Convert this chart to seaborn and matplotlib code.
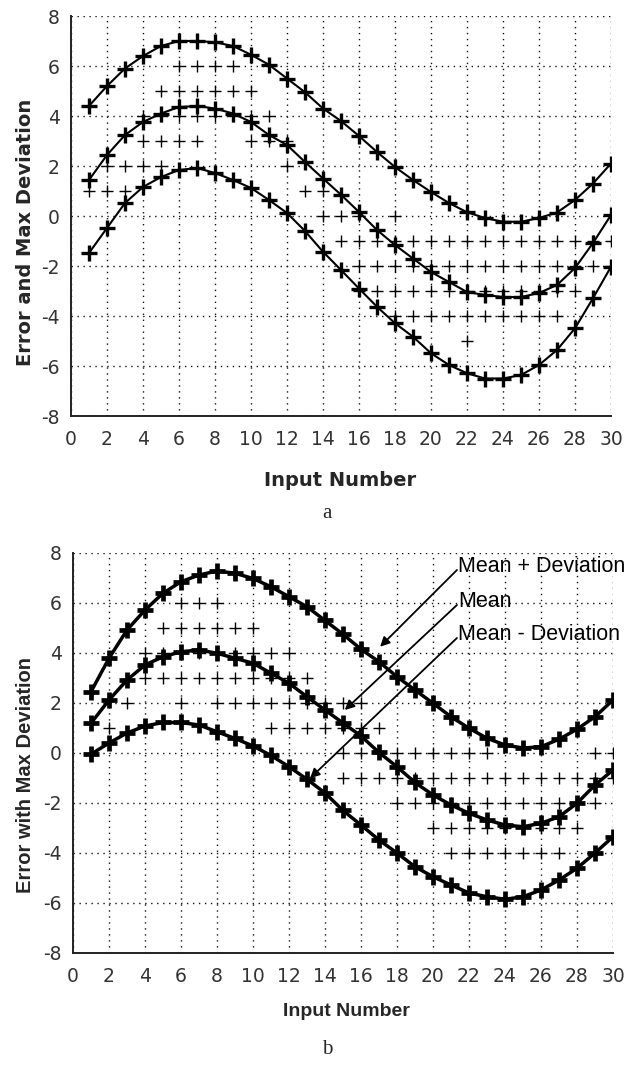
import numpy as np
import pandas as pd
import matplotlib
matplotlib.use("Agg")
import matplotlib.pyplot as plt
from matplotlib import font_manager
import seaborn as sns

# ---- data ----
inputs = list(range(1, 31))

# panel a: mean + deviation, mean, mean - deviation
a_upper = [4.4, 5.2, 5.9, 6.4, 6.8, 7.0, 7.0, 6.95, 6.8, 6.45,
           6.05, 5.5, 4.95, 4.3, 3.8, 3.2, 2.56, 1.96, 1.44, 0.96,
           0.52, 0.15, -0.08, -0.23, -0.23, -0.08, 0.14, 0.64, 1.3, 2.1]
a_mean = [1.44, 2.44, 3.24, 3.76, 4.1, 4.36, 4.4, 4.3, 4.1, 3.76,
          3.24, 2.84, 2.16, 1.5, 0.85, 0.16, -0.56, -1.16, -1.7, -2.24,
          -2.64, -3.04, -3.16, -3.24, -3.24, -3.08, -2.76, -2.08, -1.08, 0.04]
a_lower = [-1.48, -0.48, 0.52, 1.16, 1.56, 1.84, 1.92, 1.72, 1.44, 1.12,
           0.64, 0.12, -0.6, -1.43, -2.16, -2.9, -3.63, -4.29, -4.83, -5.49,
           -5.96, -6.29, -6.5, -6.5, -6.36, -5.96, -5.36, -4.49, -3.29, -2.03]

# panel a: individual errors (integer levels, list of inputs per level)
a_err_levels = [6, 5, 4, 3, 2, 1, 0, -1, -2, -3, -4, -5]
a_err_inputs = [
    [6, 7, 8, 9],
    [5, 6, 7, 8, 9, 10],
    [4, 5, 6, 7, 8, 9, 10, 11],
    [4, 5, 6, 7, 10, 11, 12],
    [2, 3, 4, 5, 12],
    [1, 2, 3, 13, 14],
    [14, 15, 16, 18],
    list(range(15, 31)),
    list(range(16, 31)),
    list(range(16, 29)),
    list(range(18, 28)),
    [22],
]

# panel b
b_upper = [2.45, 3.79, 4.92, 5.72, 6.39, 6.85, 7.12, 7.28, 7.19, 6.98,
           6.65, 6.25, 5.85, 5.3, 4.75, 4.15, 3.65, 3.05, 2.52, 1.99,
           1.45, 0.99, 0.59, 0.32, 0.2, 0.25, 0.55, 0.95, 1.45, 2.12]
b_mean = [1.19, 2.12, 2.92, 3.52, 3.85, 4.05, 4.12, 3.99, 3.79, 3.59,
          3.19, 2.79, 2.25, 1.72, 1.2, 0.68, 0.02, -0.55, -1.18, -1.68,
          -2.08, -2.41, -2.68, -2.88, -2.95, -2.81, -2.55, -2.01, -1.28, -0.68]
b_lower = [-0.05, 0.4, 0.8, 1.08, 1.22, 1.22, 1.12, 0.85, 0.58, 0.28,
           -0.1, -0.55, -1.05, -1.6, -2.3, -2.88, -3.48, -4.0, -4.55, -4.95,
           -5.28, -5.6, -5.75, -5.85, -5.75, -5.48, -5.08, -4.61, -4.0, -3.35]

b_err_levels = [6, 5, 4, 3, 2, 1, 0, -1, -2, -3, -4]
b_err_inputs = [
    [6, 7, 8],
    [5, 6, 7, 8, 9, 10],
    [4, 5, 6, 7, 8, 9, 10, 11, 12],
    [4, 5, 6, 7, 8, 9, 10, 11, 12, 13],
    [3, 6, 8, 9, 10, 11, 12, 13, 14, 15, 16],
    [2, 11, 12, 13, 14, 15, 16, 17],
    [15, 16, 17, 18, 19, 20, 21, 22, 23, 29, 30],
    list(range(15, 31)),
    list(range(18, 30)),
    list(range(20, 29)),
    list(range(21, 28)),
]

b_notes = ["Mean + Deviation", "Mean", "Mean - Deviation"]
b_note_y = [7.44, 6.04, 4.72]
b_arrow_from = [(21.33, 7.32), (21.33, 5.92), (21.33, 4.6)]
b_arrow_to = [(17.06, 4.25), (15.1, 1.72), (13.17, -1.01)]


def err_frame(levels, inputs_per_level):
    xs, ys = [], []
    for lev, ins in zip(levels, inputs_per_level):
        xs += ins
        ys += [lev] * len(ins)
    return pd.DataFrame({"x": xs, "y": ys})


sns.set_style("white")
plt.rcParams["axes.unicode_minus"] = False
names = {f.name for f in font_manager.fontManager.ttflist}
narrow = "Liberation Sans Narrow" in names
arial = "Liberation Sans Narrow" if narrow else "Liberation Sans"

W, H = 629, 1071
fig = plt.figure(figsize=(W / 100, H / 100), dpi=100)
fig.patch.set_facecolor("white")


def px_axes(l, t, r, b):
    return fig.add_axes([l / W, 1 - b / H, (r - l) / W, (b - t) / H])


def style_axes(ax):
    ax.set_xlim(0, 30)
    ax.set_ylim(-8, 8)
    ax.set_xticks(np.arange(0, 31, 2))
    ax.set_yticks(np.arange(-8, 9, 2))
    ax.grid(True, color="#111111", linestyle=(0, (1, 3.3)), linewidth=1.0)
    for s in ["top", "right"]:
        ax.spines[s].set_visible(False)
    for s in ["left", "bottom"]:
        ax.spines[s].set_color("#222222")
        ax.spines[s].set_linewidth(1.4)
    ax.tick_params(direction="in", length=4, width=1, colors="#222222",
                   labelsize=13.5)
    ax.tick_params(axis="x", pad=10)
    ax.tick_params(axis="y", pad=8)
    for lab in ax.get_xticklabels() + ax.get_yticklabels():
        lab.set_color("#333333")
    ax.set_xlabel("")
    ax.set_ylabel("")


# ---- panel a ----
ax1 = px_axes(71, 16, 611, 416)
sns.scatterplot(data=err_frame(a_err_levels, a_err_inputs), x="x", y="y", ax=ax1,
                marker="+", s=70, color="black", edgecolor="black", linewidth=1.0,
                zorder=3, legend=False)
for ys in [a_upper, a_mean, a_lower]:
    sns.lineplot(x=inputs, y=ys, ax=ax1, color="black", linewidth=1.5,
                 marker="+", markersize=11, markeredgewidth=2.4,
                 markeredgecolor="black", zorder=4)
style_axes(ax1)

# ---- panel b ----
ax2 = px_axes(73, 553, 613, 953)
sns.scatterplot(data=err_frame(b_err_levels, b_err_inputs), x="x", y="y", ax=ax2,
                marker="+", s=70, color="black", edgecolor="black", linewidth=1.0,
                zorder=3, legend=False)
for ys in [b_upper, b_mean, b_lower]:
    sns.lineplot(x=inputs, y=ys, ax=ax2, color="black", linewidth=2.5,
                 marker="+", markersize=11, markeredgewidth=3.4,
                 markeredgecolor="black", zorder=4)
style_axes(ax2)

note_size = 18 if narrow else 15.5
for txt, ty, p0, p1 in zip(b_notes, b_note_y, b_arrow_from, b_arrow_to):
    ax2.text(p0[0] + 0.05, ty, txt, ha="left", va="center", fontsize=note_size,
             family=arial, color="black", zorder=6)
    ax2.annotate("", xy=p1, xytext=p0,
                 arrowprops=dict(arrowstyle="-|>", color="black", lw=1.3,
                                 mutation_scale=14, shrinkA=0, shrinkB=0),
                 zorder=6)

# ---- labels ----
fig.text(26 / W, 1 - 232 / H, "Error and Max Deviation", rotation=90,
         ha="center", va="center", fontsize=14, fontweight="bold")
fig.text(340 / W, 1 - 480 / H, "Input Number", ha="center", va="center",
         fontsize=14, fontweight="bold")
fig.text(327 / W, 1 - 513 / H, "a", ha="center", va="center", fontsize=15,
         family="Liberation Serif")

lab_size = 16.5 if narrow else 14.5
fig.text(26 / W, 1 - 775 / H, "Error with Max Deviation", rotation=90,
         ha="center", va="center", fontsize=lab_size, fontweight="bold",
         family=arial)
fig.text(346 / W, 1 - 1012 / H, "Input Number", ha="center", va="center",
         fontsize=lab_size - 0.5, fontweight="bold", family=arial)
fig.text(327 / W, 1 - 1050 / H, "b", ha="center", va="center", fontsize=15,
         family="Liberation Serif")

fig.savefig("out.png", dpi=100, facecolor="white")
